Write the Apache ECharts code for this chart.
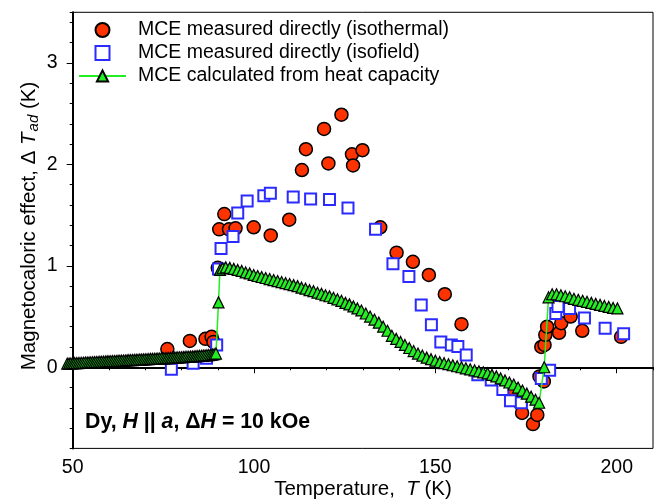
<!DOCTYPE html>
<html>
<head>
<meta charset="utf-8">
<script src="https://cdn.jsdelivr.net/npm/echarts@6/dist/echarts.min.js"></script>
<style>html,body{margin:0;padding:0;background:#fff}#c{width:657px;height:499px}</style>
</head>
<body>
<div id="c"></div>
<script>
// ---- data (T in K, ΔT_ad in K) ----
const isothermal = [
  [76.1,0.18],[82.3,0.26],[86.6,0.28],[88.3,0.30],[88.8,0.25],[90.0,0.98],[90.4,1.36],[91.8,1.51],
  [93.1,1.36],[94.9,1.37],[99.9,1.38],[104.6,1.30],[109.7,1.455],[113.2,1.945],[114.3,2.15],
  [119.3,2.35],[120.5,2.01],[124.1,2.49],[127.0,2.10],[127.3,1.99],[129.9,2.14],[134.8,1.38],
  [139.3,1.13],[143.8,1.04],[148.2,0.91],[152.6,0.72],[157.2,0.425],[171.4,-0.22],[173.5,-0.36],
  [173.9,-0.45],[176.9,-0.56],[178.1,-0.47],[178.7,-0.09],[179.9,-0.14],[179.2,0.20],[180.1,0.22],
  [180.3,0.32],[180.8,0.40],[184.1,0.34],[184.7,0.435],[187.3,0.50],[190.5,0.36],[201.2,0.30]
];
const isofield = [
  [77.2,-0.02],[83.2,0.04],[86.9,0.09],[89.7,0.22],[90.2,0.97],[90.9,1.17],[94.2,1.29],[95.5,1.52],
  [98.1,1.64],[102.7,1.69],[104.5,1.715],[110.8,1.68],[115.6,1.66],[120.8,1.655],[125.9,1.57],
  [133.5,1.36],[138.3,1.02],[142.7,0.895],[146.1,0.615],[148.9,0.42],[151.5,0.25],[154.4,0.22],
  [156.2,0.205],[158.5,0.12],[161.7,-0.075],[165.4,-0.125],[168.6,-0.22],[170.7,-0.33],[173.7,-0.35],
  [179.2,-0.11],[181.5,-0.03],[183.2,0.53],[183.8,0.60],[187.0,0.58],[191.1,0.485],[196.8,0.385],[201.9,0.33]
];
const heatCapacity = [
  [48.5,0.035],[49.0,0.036],[49.5,0.037],[50.0,0.038],[50.5,0.040],[51.0,0.040],[51.5,0.041],[52.0,0.042],
  [52.5,0.043],[53.0,0.044],[53.5,0.046],[54.0,0.046],[54.5,0.047],[55.0,0.048],[55.5,0.049],[56.0,0.050],
  [56.5,0.052],[57.0,0.052],[57.5,0.053],[58.0,0.054],[58.5,0.055],[59.0,0.056],[59.5,0.058],[60.0,0.058],
  [60.5,0.059],[61.0,0.060],[61.5,0.061],[62.0,0.062],[62.5,0.064],[63.0,0.064],[63.5,0.065],[64.0,0.066],
  [64.5,0.067],[65.0,0.068],[65.5,0.070],[66.0,0.070],[66.5,0.071],[67.0,0.072],[67.5,0.073],[68.0,0.074],
  [68.5,0.076],[69.0,0.076],[69.5,0.077],[70.0,0.078],[70.5,0.079],[71.0,0.080],[71.5,0.082],[72.0,0.082],
  [72.5,0.083],[73.0,0.084],[73.5,0.085],[74.0,0.086],[74.5,0.088],[75.0,0.088],[75.5,0.089],[76.0,0.090],
  [76.5,0.091],[77.0,0.092],[77.5,0.094],[78.0,0.095],[78.5,0.096],[79.0,0.097],[79.5,0.098],[80.0,0.099],
  [80.5,0.100],[81.0,0.102],[81.5,0.103],[82.0,0.104],[82.5,0.105],[83.0,0.106],[83.5,0.107],[84.0,0.109],
  [84.5,0.110],[85.0,0.112],[85.5,0.113],[86.0,0.115],[86.5,0.116],[87.0,0.118],[87.5,0.120],[88.0,0.122],
  [88.5,0.125],[89.0,0.129],[89.5,0.135],[90.2,0.64],[90.6,0.96],[91.3,0.975],[92.2,0.985],[93.3,0.98],[94.4,0.97],
  [95.5,0.96],[96.6,0.95],[97.7,0.935],[98.8,0.925],[99.9,0.91],[101.0,0.90],[102.1,0.89],[103.2,0.88],
  [104.3,0.87],[105.4,0.86],[106.5,0.85],[107.6,0.84],[108.7,0.83],[109.8,0.82],[110.9,0.81],[112.0,0.80],
  [113.1,0.785],[114.2,0.775],[115.3,0.76],[116.4,0.75],[117.5,0.735],[118.6,0.725],[119.7,0.71],[120.8,0.70],
  [121.9,0.685],[123.0,0.67],[124.1,0.655],[125.2,0.635],[126.3,0.62],[127.4,0.60],[128.5,0.58],[129.6,0.56],
  [130.8,0.53],[132.0,0.50],[133.2,0.47],[134.4,0.44],[135.6,0.40],[136.8,0.36],[138.0,0.31],[139.2,0.28],
  [140.4,0.25],[141.6,0.22],[142.8,0.19],[144.0,0.16],[145.2,0.135],[146.4,0.115],[147.6,0.095],[148.8,0.08],
  [150.0,0.065],[151.2,0.05],[152.4,0.04],[153.6,0.03],[154.8,0.02],[156.0,0.01],[157.2,0.0],[158.4,-0.01],
  [159.6,-0.02],[160.8,-0.03],[162.0,-0.04],[163.2,-0.05],[164.4,-0.06],[165.6,-0.075],[166.8,-0.09],
  [168.0,-0.11],[169.2,-0.13],[170.4,-0.15],[171.6,-0.17],[172.8,-0.20],[174.0,-0.23],[175.2,-0.26],
  [176.4,-0.29],[177.6,-0.32],[178.6,-0.35],[180.0,0.0],[181.2,0.69],[182.2,0.72],[183.4,0.72],[184.6,0.71],
  [185.8,0.70],[187.0,0.69],[188.2,0.675],[189.4,0.665],[190.6,0.655],[191.8,0.645],[193.0,0.635],
  [194.2,0.625],[195.4,0.615],[196.6,0.605],[197.8,0.595],[199.0,0.585],[200.2,0.58]
];
const xMajorTicks = [50, 100, 150, 200];
const yMajorTicks = [0, 1, 2, 3];
const seriesNames = [
  'MCE measured directly (isothermal)',
  'MCE measured directly (isofield)',
  'MCE calculated from heat capacity'
];

const FONT = '"Liberation Sans", Arial, Helvetica, sans-serif';
const chart = echarts.init(document.getElementById('c'), null, {renderer: 'canvas'});

const xBase = {type:'value', min:50, max:210, position:'bottom', splitLine:{show:false}};
const yBase = {type:'value', min:-0.8, max:3.5, position:'left', splitLine:{show:false}};
const SQUARE = 'path://M0,0H10V10H0Z';

chart.setOption({
  animation: false,
  backgroundColor: '#fff',
  grid: {left:72.7, right:4, top:12.3, bottom:50.6, show:true, borderColor:'#000', borderWidth:1, backgroundColor:'transparent'},
  xAxis: [
    Object.assign({}, xBase, {
      interval: 10,
      axisLine:{show:true, lineStyle:{color:'#000', width:2}},
      axisTick:{show:true, inside:false, length:3, lineStyle:{color:'#000', width:1}},
      axisLabel:{show:false}
    }),
    Object.assign({}, xBase, {
      axisLine:{show:false},
      axisTick:{show:true, inside:false, length:6, customValues:xMajorTicks, lineStyle:{color:'#000', width:1}},
      axisLabel:{show:true, customValues:xMajorTicks, margin:9, fontSize:19.5, fontFamily:FONT, color:'#000'}
    })
  ],
  yAxis: [
    Object.assign({}, yBase, {
      interval: 0.2,
      axisLine:{show:true, lineStyle:{color:'#000', width:2}},
      axisTick:{show:true, inside:false, length:3, lineStyle:{color:'#000', width:1}},
      axisLabel:{show:false}
    }),
    Object.assign({}, yBase, {
      axisLine:{show:false},
      axisTick:{show:true, inside:false, length:6, customValues:yMajorTicks, lineStyle:{color:'#000', width:1}},
      axisLabel:{show:true, customValues:yMajorTicks, margin:15, fontSize:19.5, fontFamily:FONT, color:'#000'}
    })
  ],
  legend: {
    orient:'vertical', left:78, top:19.5, padding:0, itemGap:2, itemWidth:47, itemHeight:14,
    textStyle:{fontSize:19.5, fontFamily:FONT, color:'#000', padding:[0,0,0,7], lineHeight:21},
    data: [
      {name: seriesNames[0]},
      {name: seriesNames[1], icon: SQUARE, itemStyle:{color:'#fff', borderColor:'#2B2BFF', borderWidth:2}},
      {name: seriesNames[2]}
    ]
  },
  series: [
    {
      name: seriesNames[0], type:'scatter', data: isothermal, symbol:'circle', symbolSize:13,
      itemStyle:{color:'#FF3300', borderColor:'#000', borderWidth:1.5, opacity:1},
      markLine: {
        silent:true, symbol:'none', label:{show:false},
        lineStyle:{color:'#444', type:[16,4,3,4], width:1.2},
        data:[{yAxis:0}], z:0
      },
      z: 2
    },
    {
      name: seriesNames[1], type:'scatter', data: isofield, symbol:SQUARE, symbolSize:11,
      itemStyle:{color:'#fff', borderColor:'#2B2BFF', borderWidth:2, opacity:1},
      z: 3
    },
    {
      name: seriesNames[2], type:'line', data: heatCapacity, symbol:'triangle', symbolSize:11,
      showAllSymbol:true, clip:false,
      lineStyle:{color:'#22EE22', width:1.5},
      itemStyle:{color:'#22EE22', borderColor:'#000', borderWidth:1.2},
      z: 4
    }
  ],
  graphic: [
    {
      type:'text', x:29, y:226, rotation:Math.PI/2,
      style:{
        text:'{n|Magnetocaloric effect, Δ }{i|T}{s|ad}{n| (K)}',
        align:'center', verticalAlign:'middle', fill:'#000',
        rich:{
          n:{fontSize:20.5, fontFamily:FONT, fill:'#000'},
          i:{fontSize:20.5, fontFamily:FONT, fontStyle:'italic', fill:'#000'},
          s:{fontSize:15, fontFamily:FONT, fontStyle:'italic', fill:'#000', padding:[9,0,0,1]}
        }
      }
    },
    {
      type:'text', x:363, y:489,
      style:{
        text:'{n|Temperature,  }{i|T}{n| (K)}',
        align:'center', verticalAlign:'middle', fill:'#000',
        rich:{
          n:{fontSize:20.5, fontFamily:FONT, fill:'#000'},
          i:{fontSize:20.5, fontFamily:FONT, fontStyle:'italic', fill:'#000'}
        }
      }
    },
    {
      type:'text', x:85, y:422,
      style:{
        text:'{b|Dy, }{bi|H}{b| || }{bi|a}{b|, Δ}{bi|H}{b| = 10 kOe}',
        align:'left', verticalAlign:'middle', fill:'#000',
        rich:{
          b:{fontSize:21.3, fontFamily:FONT, fontWeight:'bold', fill:'#000'},
          bi:{fontSize:21.3, fontFamily:FONT, fontWeight:'bold', fontStyle:'italic', fill:'#000'}
        }
      }
    }
  ]
});
</script>
</body>
</html>
